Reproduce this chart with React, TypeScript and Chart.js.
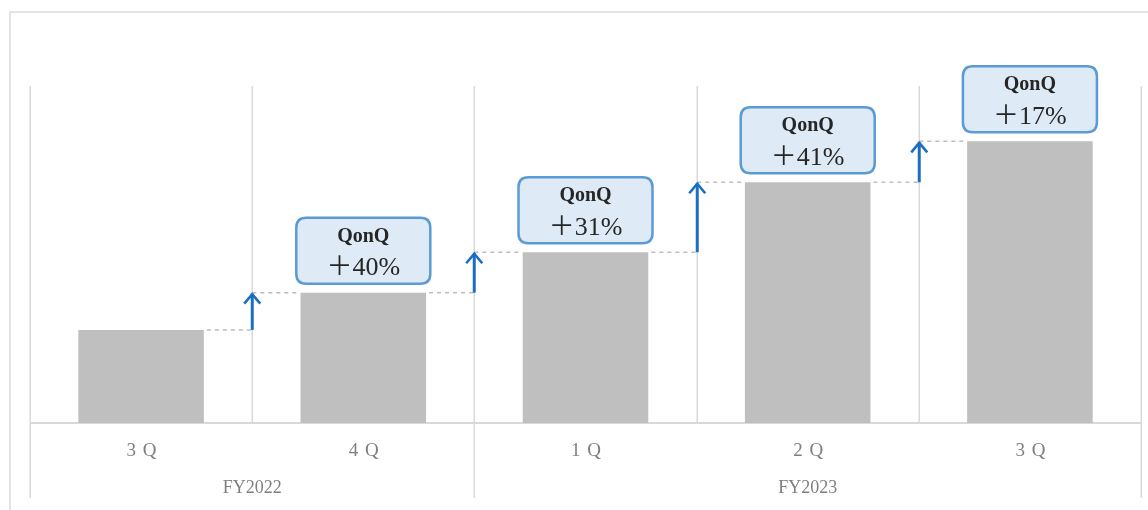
import { useEffect, useRef } from "react";
import { Chart, registerables } from "chart.js";

Chart.register(...registerables);

// Quarterly sales index, FY2022 3Q = 100
const quarters = ["3 Q", "4 Q", "1 Q", "2 Q", "3 Q"];
const sales = [100, 140, 183.4, 258.6, 302.6];
const fiscalYears = ["FY2022", "FY2023"];
const fiscalYearFirst = [0, 2];
const fiscalYearLast = [1, 4];
const axisMax = 362;
const growthTitle = "QonQ";

const SERIF = "'Liberation Serif', 'DejaVu Serif', 'Noto Sans CJK JP', serif";
const GRID = "#d9d9d9";
const ARROW = "#1b6ec2";

const growthPct = (i: number) => Math.round((sales[i] / sales[i - 1] - 1) * 100);

function roundRect(ctx: CanvasRenderingContext2D, x: number, y: number, w: number, h: number, r: number) {
  ctx.beginPath();
  ctx.moveTo(x + r, y);
  ctx.lineTo(x + w - r, y);
  ctx.quadraticCurveTo(x + w, y, x + w, y + r);
  ctx.lineTo(x + w, y + h - r);
  ctx.quadraticCurveTo(x + w, y + h, x + w - r, y + h);
  ctx.lineTo(x + r, y + h);
  ctx.quadraticCurveTo(x, y + h, x, y + h - r);
  ctx.lineTo(x, y + r);
  ctx.quadraticCurveTo(x, y, x + r, y);
  ctx.closePath();
}

const decor = {
  id: "decor",
  beforeDatasetsDraw(chart: any) {
    const { ctx, chartArea: a, scales } = chart;
    const x = scales.x;
    ctx.save();
    // outer frame
    ctx.strokeStyle = "#e4e4e4";
    ctx.lineWidth = 2;
    ctx.beginPath();
    ctx.moveTo(10, chart.height);
    ctx.lineTo(10, 12);
    ctx.lineTo(chart.width, 12);
    ctx.stroke();

    // category separators; fiscal-year edges run down past the labels
    const longEdges = new Set<number>([0, ...fiscalYearLast.map((i) => i + 1)]);
    ctx.strokeStyle = GRID;
    ctx.lineWidth = 1.5;
    for (let i = 0; i <= quarters.length; i++) {
      const px = Math.round(x.getPixelForValue(i - 0.5)) + 0.25;
      ctx.beginPath();
      ctx.moveTo(px, a.top);
      ctx.lineTo(px, longEdges.has(i) ? 498 : a.bottom);
      ctx.stroke();
    }
    // baseline
    ctx.lineWidth = 2;
    ctx.beginPath();
    ctx.moveTo(a.left, a.bottom);
    ctx.lineTo(a.right, a.bottom);
    ctx.stroke();

    // quarter labels
    ctx.fillStyle = "#7f7f7f";
    ctx.textAlign = "center";
    ctx.textBaseline = "middle";
    ctx.font = `19px ${SERIF}`;
    (ctx as any).letterSpacing = "1px";
    quarters.forEach((q, i) => {
      ctx.fillText(q, x.getPixelForValue(i) + 1, 451);
    });
    (ctx as any).letterSpacing = "0px";
    ctx.font = `18px ${SERIF}`;
    fiscalYears.forEach((fy, k) => {
      const cx = (x.getPixelForValue(fiscalYearFirst[k]) + x.getPixelForValue(fiscalYearLast[k])) / 2;
      ctx.fillText(fy, cx, 488);
    });
    ctx.restore();
  },
  afterDatasetsDraw(chart: any) {
    const { ctx, scales } = chart;
    const x = scales.x;
    const y = scales.y;
    const bars = chart.getDatasetMeta(0).data;
    ctx.save();
    for (let i = 1; i < sales.length; i++) {
      const prevTop = y.getPixelForValue(sales[i - 1]);
      const top = y.getPixelForValue(sales[i]);
      const edge = Math.round(x.getPixelForValue(i - 0.5)) + 0.25;
      const prevRight = bars[i - 1].x + bars[i - 1].width / 2;
      const left = bars[i].x - bars[i].width / 2;

      // dotted level guides
      ctx.strokeStyle = "#bdbdbd";
      ctx.lineWidth = 1.5;
      ctx.setLineDash([4, 4]);
      ctx.beginPath();
      ctx.moveTo(prevRight + 3, prevTop);
      ctx.lineTo(edge, prevTop);
      ctx.moveTo(edge, top);
      ctx.lineTo(left - 3, top);
      ctx.stroke();
      ctx.setLineDash([]);

      // growth arrow
      ctx.strokeStyle = ARROW;
      ctx.lineWidth = 3;
      ctx.lineCap = "butt";
      ctx.beginPath();
      ctx.moveTo(edge, prevTop);
      ctx.lineTo(edge, top + 1);
      ctx.stroke();
      ctx.lineWidth = 2.6;
      ctx.lineJoin = "miter";
      ctx.beginPath();
      ctx.moveTo(edge - 8, top + 11);
      ctx.lineTo(edge, top + 1.5);
      ctx.lineTo(edge + 8, top + 11);
      ctx.stroke();

      // QonQ callout
      const bw = 134;
      const bh = 66;
      const bx = bars[i].x - bw / 2;
      const by = top - 9 - bh;
      roundRect(ctx, bx, by, bw, bh, 10);
      ctx.fillStyle = "#deebf7";
      ctx.fill();
      ctx.strokeStyle = "#5b9bd5";
      ctx.lineWidth = 2.5;
      ctx.stroke();

      ctx.fillStyle = "#262626";
      ctx.textAlign = "center";
      ctx.textBaseline = "middle";
      ctx.font = `bold 20px ${SERIF}`;
      ctx.fillText(growthTitle, bars[i].x, by + 19);
      ctx.font = `26px ${SERIF}`;
      ctx.fillText(`＋${growthPct(i)}%`, bars[i].x, by + 51);
    }
    ctx.restore();
  },
};

export default function App() {
  const ref = useRef<HTMLCanvasElement>(null);
  useEffect(() => {
    if (!ref.current) return;
    const chart = new Chart(ref.current, {
      type: "bar",
      data: {
        labels: quarters,
        datasets: [
          {
            data: sales,
            backgroundColor: "#bfbfbf",
            borderWidth: 0,
            categoryPercentage: 1,
            barPercentage: 0.565,
          },
        ],
      },
      options: {
        animation: false,
        responsive: false,
        maintainAspectRatio: false,
        events: [],
        layout: { padding: { left: 30, right: 7, top: 86, bottom: 87 } },
        plugins: { legend: { display: false }, tooltip: { enabled: false } },
        scales: {
          x: { display: false, offset: true },
          y: { display: false, min: 0, max: axisMax },
        },
      },
      plugins: [decor],
    });
    return () => chart.destroy();
  }, []);
  return (
    <div style={{ position: "fixed", left: 0, top: 0, width: 1148, height: 510, background: "#fff" }}>
      <canvas ref={ref} width={1148} height={510} style={{ width: 1148, height: 510 }} />
    </div>
  );
}
